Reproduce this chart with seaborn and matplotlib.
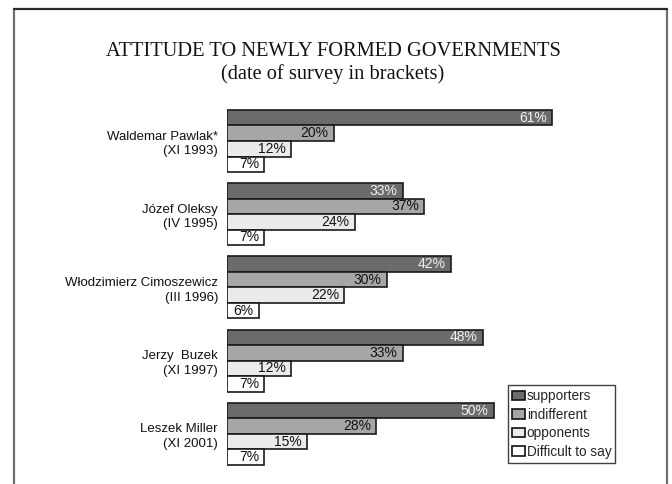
import matplotlib
matplotlib.use("Agg")
import matplotlib.pyplot as plt
from matplotlib.lines import Line2D
import pandas as pd
import seaborn as sns

# Survey results per newly formed government (percent)
prime_ministers = [
    "Waldemar Pawlak*\n(XI 1993)",
    "Józef Oleksy\n(IV 1995)",
    "Włodzimierz Cimoszewicz\n(III 1996)",
    "Jerzy  Buzek\n(XI 1997)",
    "Leszek Miller\n(XI 2001)",
]
attitudes = ["supporters", "indifferent", "opponents", "Difficult to say"]
supporters = [61, 33, 42, 48, 50]
indifferent = [20, 37, 30, 33, 28]
opponents = [12, 24, 22, 12, 15]
difficult = [7, 7, 6, 7, 7]

series = [supporters, indifferent, opponents, difficult]
rows = []
for att, vals in zip(attitudes, series):
    for pm, v in zip(prime_ministers, vals):
        rows.append({"pm": pm, "attitude": att, "value": v})
df = pd.DataFrame(rows)

palette = {"supporters": "#6b6b6b", "indifferent": "#a6a6a6",
           "opponents": "#ebebeb", "Difficult to say": "#ffffff"}
text_colors = {"supporters": "#f2f2f2", "indifferent": "#111111",
               "opponents": "#111111", "Difficult to say": "#111111"}

sns.set_style("white")
plt.rcParams["font.family"] = ["Liberation Sans", "DejaVu Sans"]

W, H = 672, 484
fig = plt.figure(figsize=(W / 100, H / 100), dpi=100)

# axes placed in pixel space: zero line at x=227, 5.33 px per percent
x0, x1 = 227, 667
y_top, y_bot = 100, 470
ax = fig.add_axes([x0 / W, 1 - y_bot / H, (x1 - x0) / W, (y_bot - y_top) / H])

sns.barplot(data=df, y="pm", x="value", hue="attitude", hue_order=attitudes,
            order=prime_ministers, palette=palette, orient="h", width=0.847,
            edgecolor="#1a1a1a", linewidth=1.2, ax=ax, legend=True)

px_per_unit = 5.33
ax.set_xlim(0, (x1 - x0) / px_per_unit)
pitch = 73.2
c0 = 141
ax.set_ylim((y_bot - c0) / pitch, -(c0 - y_top) / pitch)

for cont, att in zip(ax.containers, attitudes):
    for bar in cont:
        w = bar.get_width()
        yc = bar.get_y() + bar.get_height() / 2
        ax.text(w - 1.0, yc, f"{w:.0f}%", ha="right", va="center",
                fontsize=10, color=text_colors[att])

for s in ax.spines.values():
    s.set_visible(False)
ax.set_xticks([])
ax.set_xlabel("")
ax.set_ylabel("")
ax.tick_params(axis="y", length=0, pad=6.5)
for lbl in ax.get_yticklabels():
    lbl.set_fontsize(9.5)
    lbl.set_multialignment("right")
    lbl.set_linespacing(1.3)
    lbl.set_color("#111111")

leg = ax.legend(loc="upper left", bbox_to_anchor=(508 / W, 1 - 385 / H),
                bbox_transform=fig.transFigure, borderaxespad=0,
                frameon=True, fancybox=False, fontsize=9.8,
                handlelength=0.95, handleheight=0.7, handletextpad=0.12,
                labelspacing=0.33, borderpad=0.3)
leg.get_frame().set_edgecolor("#111111")
leg.get_frame().set_linewidth(1.0)
for h in leg.legend_handles:
    h.set_edgecolor("#111111")
    h.set_linewidth(1.2)

# titles
fig.text(333 / W, 1 - 56 / H, "ATTITUDE TO NEWLY FORMED GOVERNMENTS",
         ha="center", va="baseline", fontsize=14.7,
         family=["Liberation Serif", "DejaVu Serif"], color="#111111")
fig.text(333 / W, 1 - 79 / H, "(date of survey in brackets)",
         ha="center", va="baseline", fontsize=14.7,
         family=["Liberation Serif", "DejaVu Serif"], color="#111111")

# surrounding frame (open at the bottom)
fig.add_artist(Line2D([14 / W, 14 / W], [0, 1 - 9 / H], transform=fig.transFigure,
                      color="#6e6e6e", lw=1.6))
fig.add_artist(Line2D([667 / W, 667 / W], [0, 1 - 9 / H], transform=fig.transFigure,
                      color="#6e6e6e", lw=1.6))
fig.add_artist(Line2D([14 / W, 667 / W], [1 - 9 / H, 1 - 9 / H], transform=fig.transFigure,
                      color="#2a2a2a", lw=1.6))

fig.savefig("out.png", dpi=100)
